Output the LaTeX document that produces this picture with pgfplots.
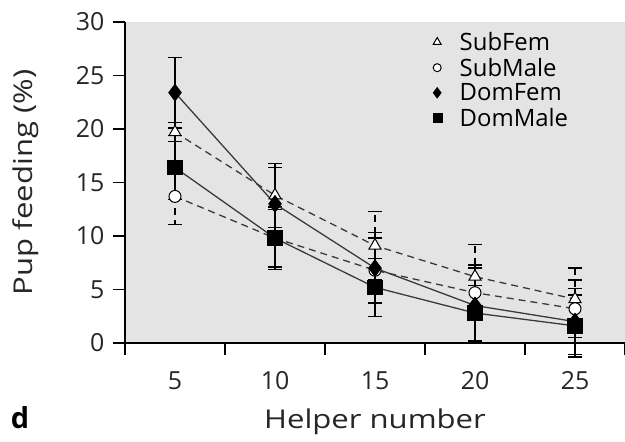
\documentclass[border=0pt]{standalone}
\usepackage{pgfplots}
\pgfplotsset{compat=1.18}
\usepackage{pgfplotstable}
\usetikzlibrary{calc}
\usepackage{fontspec}
\setmainfont{Open Sans}
\newfontfamily\labelfont[FakeStretch=1.2]{Open Sans}

\definecolor{bggray}{HTML}{E4E4E4}
\definecolor{linegray}{HTML}{3A3A3A}

% x  y  err
\pgfplotstableread{
x  y    e
5  19.7 0.9
10 13.8 3.0
15 9.1  3.2
20 6.2  3.0
25 4.1  2.9
}\subfem
\pgfplotstableread{
x  y    e
5  13.7 2.6
10 9.8  2.9
15 6.8  3.0
20 4.7  2.6
25 3.2  2.7
}\submale
\pgfplotstableread{
x  y    e
5  23.4 3.3
10 13.0 3.4
15 7.0  3.3
20 3.5  3.5
25 2.0  3.1
}\domfem
\pgfplotstableread{
x  y    e
5  16.4 3.0
10 9.8  2.7
15 5.2  2.7
20 2.8  2.6
25 1.6  2.9
}\dommale

\begin{document}
\begin{tikzpicture}
% page frame: axis box sits with its lower left corner at the origin
\path[use as bounding box] (-125bp,-99bp) rectangle (500bp,343bp);
\begin{axis}[
  at={(0,0)}, anchor=south west,
  scale only axis,
  width=500bp, height=321bp,
  xmin=2.5, xmax=27.5,
  ymin=0, ymax=30,
  axis background/.style={fill=bggray},
  axis x line=bottom, axis y line=left,
  axis line style={-, line width=1.3bp, black},
  xtick={5,10,15,20,25},
  minor xtick={2.5,7.5,12.5,17.5,22.5,27.5},
  ytick={0,5,...,30},
  tick align=outside,
  major tick length=12bp,
  minor tick length=12bp,
  every tick/.style={line width=1.3bp, black},
  major x tick style={draw=none},
  /pgf/number format/assume math mode=true,
  tick label style={font=\fontsize{25}{28}\selectfont, text=black!85},
  xticklabel style={anchor=base, yshift=-34bp},
  yticklabel style={xshift=-5bp},
  ylabel={Pup feeding (\%)},
  xlabel={Helper number},
  every axis y label/.style={at={(axis description cs:0,0.5)}, xshift=-99bp, rotate=90, anchor=center,
    font=\labelfont\fontsize{26}{28}\selectfont, text=black!85},
  every axis x label/.style={at={(axis description cs:0.5,0)}, yshift=-85bp, anchor=base,
    font=\labelfont\fontsize{26}{28}\selectfont, text=black!85},
  legend style={draw=none, fill=none, at={(axis description cs:0.615,0.975)}, anchor=north west,
    font=\fontsize{24}{26}\selectfont, row sep=2bp, inner sep=0pt,
    /tikz/every odd column/.style={column sep=16bp}},
  legend cell align=left,
  clip=false,
  error bars/y dir=both, error bars/y explicit,
  error bars/error bar style={line width=1.3bp, black},
  error bars/error mark options={rotate=90, mark size=7bp, line width=1.3bp, black},
]
\addplot[forget plot, linegray, line width=1.3bp, dash pattern=on 7bp off 5bp,
  mark=triangle*, mark options={solid, fill=white, draw=black, line width=1bp}, mark size=7bp]
  table[x=x, y=y, y error=e]{\subfem};
\addplot[forget plot, linegray, line width=1.3bp, dash pattern=on 7bp off 5bp,
  mark=*, mark options={solid, fill=white, draw=black, line width=1bp}, mark size=6bp]
  table[x=x, y=y, y error=e]{\submale};
\addplot[forget plot, linegray, line width=1.3bp,
  mark=diamond*, mark options={fill=black, draw=black}, mark size=8bp]
  table[x=x, y=y, y error=e]{\domfem};
\addplot[forget plot, linegray, line width=1.3bp,
  mark=square*, mark options={fill=black, draw=black}, mark size=7bp]
  table[x=x, y=y, y error=e]{\dommale};

\addlegendimage{only marks, mark=triangle*, mark options={fill=white, draw=black, line width=1bp}, mark size=4.5bp}
\addlegendentry{SubFem}
\addlegendimage{only marks, mark=*, mark options={fill=white, draw=black, line width=1bp}, mark size=4bp}
\addlegendentry{SubMale}
\addlegendimage{only marks, mark=diamond*, mark options={fill=black, draw=black}, mark size=5.5bp}
\addlegendentry{DomFem}
\addlegendimage{only marks, mark=square*, mark options={fill=black, draw=black}, mark size=4.5bp}
\addlegendentry{DomMale}
\end{axis}
\node[font=\fontsize{29}{30}\selectfont\bfseries, anchor=base] at (-105bp,-85bp) {d};
\end{tikzpicture}
\end{document}
